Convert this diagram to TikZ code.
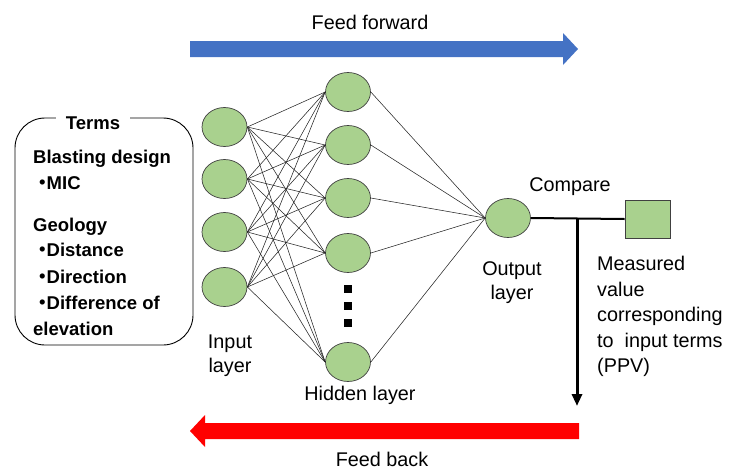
\documentclass[tikz,border=0pt]{standalone}
\usepackage{fontspec}
\setmainfont{Liberation Sans}
\newfontfamily\cjk{Noto Sans CJK JP}
\usetikzlibrary{shapes.geometric,arrows.meta}
\definecolor{nodegreen}{HTML}{A9D18E}
\definecolor{ffblue}{HTML}{4472C4}
\tikzset{
  neuron/.style={ellipse,draw=black!75,line width=0.7pt,fill=nodegreen,minimum width=45,minimum height=39,inner sep=0},
  link/.style={draw=black!85,line width=0.55pt},
  lbl/.style={font=\fontsize{19.8}{24}\selectfont,inner sep=0},
  blbl/.style={font=\fontsize{18.5}{22}\selectfont\bfseries,inner sep=0,anchor=base west},
  dotsq/.style={fill=black,minimum width=8,minimum height=7.5,inner sep=0}
}
\begin{document}
\begin{tikzpicture}[x=1pt,y=-1pt]
\useasboundingbox (0,0) rectangle (736,469);
% feed forward arrow
\fill[ffblue] (190,41) -- (563,41) -- (563,33) -- (578,49) -- (563,65) -- (563,57) -- (190,57) -- cycle;
\node[lbl] (ff) at (370,22) {Feed forward};
% feed back arrow
\fill[red] (579,423) -- (205,423) -- (205,415) -- (190,431) -- (205,447) -- (205,439) -- (579,439) -- cycle;
\node[lbl] (fb) at (382,459) {Feed back};
% terms box
\draw[line width=0.9pt,rounded corners=30] (15,118) rectangle (193,345);
\node[font=\fontsize{18.5}{22}\selectfont\bfseries,fill=white,inner xsep=10,inner ysep=2] (terms) at (93,123) {Terms};
\node[blbl] (t1) at (33,163) {Blasting design};
\node[blbl] (t2) at (33,189) {{\cjk ・}\hspace{-5pt}MIC};
\node[blbl] (t3) at (33,231) {Geology};
\node[blbl] (t4) at (33,256) {{\cjk ・}\hspace{-5pt}Distance};
\node[blbl] (t5) at (33,283) {{\cjk ・}\hspace{-5pt}Direction};
\node[blbl] (t6) at (33,309) {{\cjk ・}\hspace{-5pt}Difference of};
\node[blbl] (t7) at (33,335) {elevation};
% input layer
\node[neuron] (i1) at (224.5,127) {};
\node[neuron] (i2) at (224.5,179) {};
\node[neuron] (i3) at (224.5,232) {};
\node[neuron] (i4) at (224.5,287) {};
% hidden layer
\node[neuron] (h1) at (348,92) {};
\node[neuron] (h2) at (348,145) {};
\node[neuron] (h3) at (348,198) {};
\node[neuron] (h4) at (348,253) {};
\node[neuron] (h5) at (348,362) {};
\node[dotsq] (d1) at (348,289) {};
\node[dotsq] (d2) at (348,306) {};
\node[dotsq] (d3) at (348,323) {};
% output
\node[neuron] (o) at (508,218) {};
% links
\foreach \i in {1,...,4}{
  \foreach \h in {1,...,5}{
    \draw[link] (i\i.east) -- (h\h.west);
  }
}
\foreach \h in {1,...,5}{
  \draw[link] (h\h.east) -- (o.west);
}
% compare
\node[draw=black!75,line width=0.7pt,fill=nodegreen,minimum width=45,minimum height=38,inner sep=0] (sq) at (647.5,219) {};
\draw[line width=2pt] (o.east) -- (sq.west);
\coordinate (c1) at (577,218);
\coordinate (c2) at (577,406);
\draw[line width=3pt,-{Triangle[length=12pt,width=10pt]}] (c1) -- (c2);
\node[lbl] (cmp) at (570,187) {Compare};
% labels
\node[lbl,align=center] (outl) at (512,283) {Output\\layer};
\node[lbl,align=center] (inl) at (230,356) {Input\\layer};
\node[lbl] (hidl) at (360,395) {Hidden layer};
\node[lbl,align=left,anchor=north west,font=\fontsize{19.8}{25.5}\selectfont] (meas) at (597,256) {Measured\\value\\corresponding\\to\ \ input terms\\(PPV)};
\end{tikzpicture}
\end{document}
